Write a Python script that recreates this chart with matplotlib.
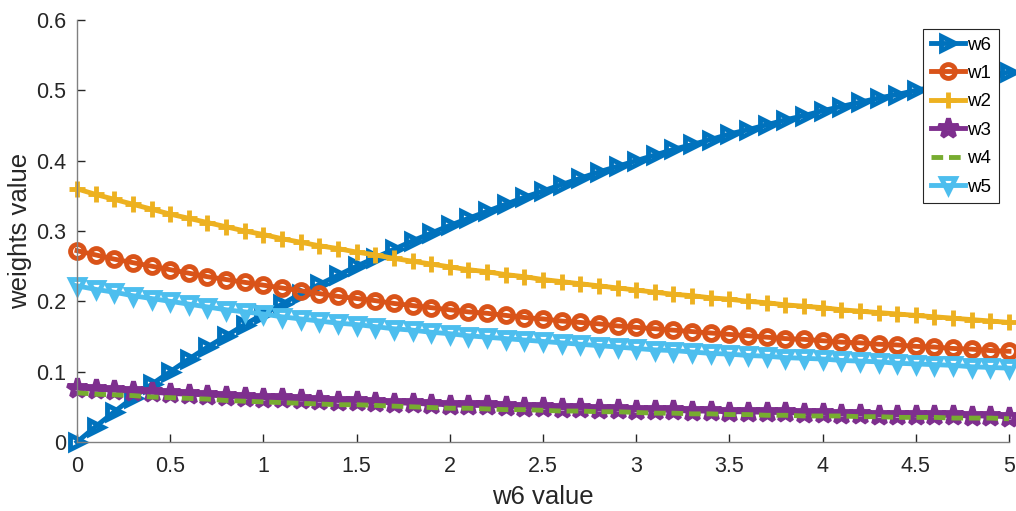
import numpy as np
import matplotlib
matplotlib.use("Agg")
import matplotlib.pyplot as plt

plt.rcParams['font.family'] = ['Liberation Sans', 'DejaVu Sans']

# w6 swept from 0 to 5 in steps of 0.1
x = np.linspace(0, 5, 51)

w6 = [0.000, 0.022, 0.043, 0.063, 0.082, 0.100, 0.118, 0.135, 0.151, 0.167,
      0.182, 0.196, 0.211, 0.224, 0.237, 0.250, 0.262, 0.274, 0.286, 0.297,
      0.308, 0.318, 0.328, 0.338, 0.348, 0.357, 0.366, 0.375, 0.384, 0.392,
      0.400, 0.408, 0.416, 0.423, 0.430, 0.438, 0.444, 0.451, 0.458, 0.464,
      0.471, 0.477, 0.483, 0.489, 0.494, 0.500, 0.505, 0.511, 0.516, 0.521,
      0.526]
w1 = [0.272, 0.266, 0.260, 0.255, 0.250, 0.245, 0.240, 0.235, 0.231, 0.227,
      0.223, 0.219, 0.215, 0.211, 0.207, 0.204, 0.201, 0.197, 0.194, 0.191,
      0.188, 0.185, 0.183, 0.180, 0.177, 0.175, 0.172, 0.170, 0.168, 0.165,
      0.163, 0.161, 0.159, 0.157, 0.155, 0.153, 0.151, 0.149, 0.147, 0.146,
      0.144, 0.142, 0.141, 0.139, 0.138, 0.136, 0.135, 0.133, 0.132, 0.130,
      0.129]
w2 = [0.360, 0.352, 0.345, 0.338, 0.331, 0.324, 0.318, 0.312, 0.306, 0.300,
      0.295, 0.289, 0.284, 0.279, 0.275, 0.270, 0.266, 0.261, 0.257, 0.253,
      0.249, 0.245, 0.242, 0.238, 0.235, 0.231, 0.228, 0.225, 0.222, 0.219,
      0.216, 0.213, 0.210, 0.208, 0.205, 0.203, 0.200, 0.198, 0.195, 0.193,
      0.191, 0.188, 0.186, 0.184, 0.182, 0.180, 0.178, 0.176, 0.174, 0.172,
      0.170]
w3 = [0.077, 0.075, 0.074, 0.072, 0.071, 0.069, 0.068, 0.067, 0.065, 0.064,
      0.063, 0.062, 0.061, 0.060, 0.059, 0.058, 0.057, 0.056, 0.055, 0.054,
      0.053, 0.052, 0.052, 0.051, 0.050, 0.050, 0.049, 0.048, 0.047, 0.047,
      0.046, 0.046, 0.045, 0.044, 0.044, 0.043, 0.043, 0.042, 0.042, 0.041,
      0.041, 0.040, 0.040, 0.039, 0.039, 0.038, 0.038, 0.038, 0.037, 0.037,
      0.036]
w4 = [0.070, 0.068, 0.067, 0.066, 0.064, 0.063, 0.062, 0.061, 0.059, 0.058,
      0.057, 0.056, 0.055, 0.054, 0.053, 0.053, 0.052, 0.051, 0.050, 0.049,
      0.048, 0.048, 0.047, 0.046, 0.046, 0.045, 0.044, 0.044, 0.043, 0.043,
      0.042, 0.041, 0.041, 0.040, 0.040, 0.039, 0.039, 0.038, 0.038, 0.037,
      0.037, 0.037, 0.036, 0.036, 0.035, 0.035, 0.035, 0.034, 0.034, 0.034,
      0.033]
w5 = [0.222, 0.217, 0.213, 0.208, 0.204, 0.200, 0.196, 0.192, 0.188, 0.185,
      0.182, 0.178, 0.175, 0.172, 0.169, 0.167, 0.164, 0.161, 0.159, 0.156,
      0.154, 0.151, 0.149, 0.147, 0.145, 0.143, 0.141, 0.139, 0.137, 0.135,
      0.133, 0.131, 0.130, 0.128, 0.126, 0.125, 0.123, 0.122, 0.120, 0.119,
      0.118, 0.116, 0.115, 0.114, 0.112, 0.111, 0.110, 0.109, 0.107, 0.106,
      0.105]

labels = ['w6', 'w1', 'w2', 'w3', 'w4', 'w5']
xticks = [0, 0.5, 1, 1.5, 2, 2.5, 3, 3.5, 4, 4.5, 5]
xticklabels = ['0', '0.5', '1', '1.5', '2', '2.5', '3', '3.5', '4', '4.5', '5']
yticks = [0, 0.1, 0.2, 0.3, 0.4, 0.5, 0.6]
yticklabels = ['0', '0.1', '0.2', '0.3', '0.4', '0.5', '0.6']

fig = plt.figure(figsize=(10.16, 5.11), dpi=100)
ax = fig.add_axes([77 / 1016, 1 - 442 / 511, (1009 - 77) / 1016, (442 - 20) / 511])

lw = 3.5
common = dict(lw=lw, mew=lw, mfc='none', clip_on=False)
ax.plot(x, w6, color='#0072BD', marker='>', ms=10.5, label=labels[0], **common)
ax.plot(x, w1, color='#D95319', marker='o', ms=10, label=labels[1], **common)
ax.plot(x, w2, color='#EDB120', marker='+', ms=11, label=labels[2], **common)
ax.plot(x, w3, color='#7E2F8E', marker='*', ms=15, label=labels[3], **common)
ax.plot(x, w4, color='#77AC30', ls='--', lw=lw, dashes=(2.4, 1.2), label=labels[4], clip_on=False)
ax.plot(x, w5, color='#4DBEEE', marker='v', ms=10.5, label=labels[5], **common)

ax.set_xlim(0, 5)
ax.set_ylim(0, 0.6)
ax.set_xticks(xticks)
ax.set_xticklabels(xticklabels)
ax.set_yticks(yticks)
ax.set_yticklabels(yticklabels)

for side in ('top', 'right'):
    ax.spines[side].set_visible(False)
for side in ('left', 'bottom'):
    ax.spines[side].set_color('#808080')
    ax.spines[side].set_linewidth(1.0)

ax.tick_params(direction='in', length=6, width=1.0, color='#262626',
               labelcolor='#262626', labelsize=15.5, pad=10)
ax.tick_params(axis='y', pad=8)

ax.set_xlabel('w6 value', fontsize=18.5, color='#262626', labelpad=6)
ax.set_ylabel('weights value', fontsize=18.5, color='#262626', labelpad=3)

leg = ax.legend(loc='upper right', bbox_to_anchor=(999 / 1016, 1 - 29 / 511),
                bbox_transform=fig.transFigure, borderaxespad=0,
                fontsize=13.5, handlelength=1.8, handletextpad=0.15,
                labelspacing=0.6, borderpad=0.4, fancybox=False,
                framealpha=1, edgecolor='#262626')
leg.get_frame().set_linewidth(0.8)

fig.savefig('out.png', dpi=100)
